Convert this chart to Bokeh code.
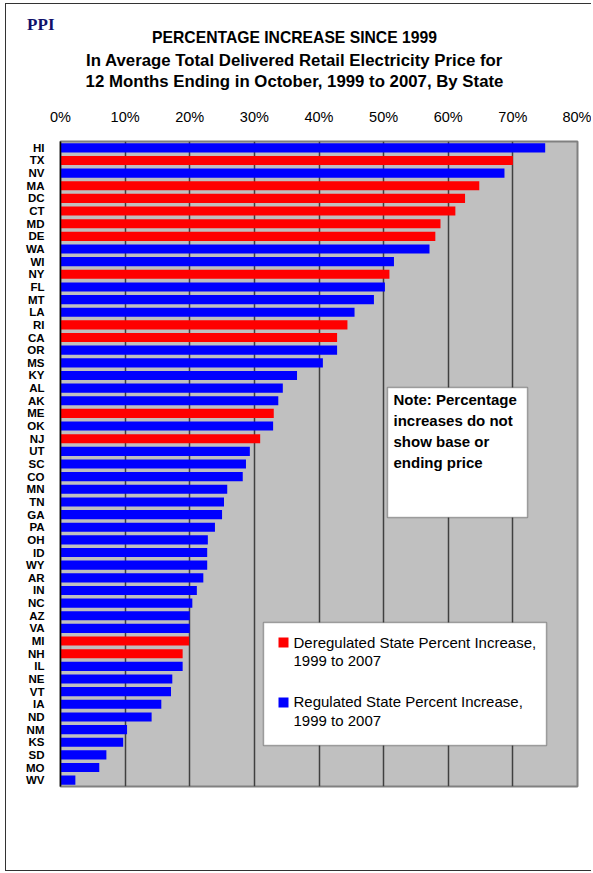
from bokeh.plotting import figure
from bokeh.layouts import column
from bokeh.models import (ColumnDataSource, FactorRange, Range1d, FixedTicker,
                          Label, BoxAnnotation)
from bokeh.core.properties import value
from bokeh.transform import factor_cmap
from bokeh.embed import file_html
from bokeh.resources import INLINE

# ---------------- data ----------------
states = ["HI", "TX", "NV", "MA", "DC", "CT", "MD", "DE", "WA", "WI", "NY", "FL",
          "MT", "LA", "RI", "CA", "OR", "MS", "KY", "AL", "AK", "ME", "OK", "NJ",
          "UT", "SC", "CO", "MN", "TN", "GA", "PA", "OH", "ID", "WY", "AR", "IN",
          "NC", "AZ", "VA", "MI", "NH", "IL", "NE", "VT", "IA", "ND", "NM", "KS",
          "SD", "MO", "WV"]
pct_increase = [75.0, 70.0, 68.7, 64.8, 62.6, 61.1, 58.8, 58.0, 57.1, 51.6, 50.9, 50.2,
                48.5, 45.5, 44.4, 42.8, 42.8, 40.6, 36.6, 34.4, 33.7, 33.0, 32.9, 30.9,
                29.3, 28.7, 28.2, 25.8, 25.3, 25.0, 23.9, 22.8, 22.7, 22.7, 22.1, 21.1,
                20.4, 20.0, 20.0, 19.9, 18.9, 18.9, 17.3, 17.1, 15.6, 14.1, 10.3, 9.7,
                7.1, 6.0, 2.3]
deregulated_states = ["TX", "MA", "DC", "CT", "MD", "DE", "NY", "RI", "CA", "ME",
                      "NJ", "MI", "NH"]
market_type = ["Deregulated" if s in deregulated_states else "Regulated" for s in states]

tick_values = [0, 10, 20, 30, 40, 50, 60, 70, 80]
tick_labels = ["0%", "10%", "20%", "30%", "40%", "50%", "60%", "70%", "80%"]

series_names = ["Deregulated", "Regulated"]
series_colors = ["#FF0000", "#0000FF"]
legend_lines = [["Deregulated State Percent Increase,", "1999 to 2007"],
                ["Regulated State Percent Increase,", "1999 to 2007"]]

title_lines = ["PERCENTAGE INCREASE SINCE 1999",
               "In Average Total Delivered Retail Electricity Price for",
               "12 Months Ending in October, 1999 to 2007, By State"]
note_lines = ["Note: Percentage", "increases do not", "show base or", "ending price"]
logo_text = "PPI"

FONT = "Liberation Sans"
W = 585
HEADER_H = 96
MAIN_H = 770
BORDER = "1px solid #333333"

# ---------------- header (title block) ----------------
# header frame lines up with the chart frame; ranges are page pixels
hdr = figure(width=W, height=HEADER_H, x_range=Range1d(60, 577), y_range=Range1d(100, 4),
             x_axis_location=None, y_axis_location="left",
             output_backend="svg", toolbar_location=None,
             min_border=0, min_border_left=0, min_border_right=0,
             min_border_top=0, min_border_bottom=0)
hdr.grid.visible = False
hdr.outline_line_color = None
hdr.background_fill_color = "white"
hdr.border_fill_color = "white"

# the "PPI" logo sits left of the frame: use the header's y axis label for it
hy = hdr.yaxis[0]
hy.ticker = FixedTicker(ticks=[24])
hy.major_label_overrides = {24: logo_text}
hy.axis_line_color = None
hy.major_tick_line_color = None
hy.minor_tick_line_color = None
hy.major_label_text_font = "Liberation Serif"
hy.major_label_text_font_style = "bold"
hy.major_label_text_font_size = "17px"
hy.major_label_text_color = "#10106A"
hy.major_label_standoff = 0

for txt, yy, fs in zip(title_lines, [37, 60, 81], ["15.7px", "16.8px", "16.8px"]):
    hdr.text(x=[294], y=[yy], text=[txt], text_font=value(FONT),
             text_font_style="bold", text_font_size=fs, text_align="center",
             text_baseline="middle", text_color="black")

# ---------------- main chart ----------------
source = ColumnDataSource(dict(state=states, value=pct_increase, kind=market_type))

p = figure(width=W, height=MAIN_H,
           y_range=FactorRange(factors=states[::-1]),
           x_range=Range1d(0, 80),
           x_axis_location="above",
           output_backend="svg", toolbar_location=None,
           min_border_left=54, min_border_right=14,
           min_border_top=41, min_border_bottom=84)

p.background_fill_color = "#C0C0C0"
p.border_fill_color = "white"
p.outline_line_color = "#808080"
p.outline_line_width = 2

p.hbar(y="state", right="value", left=0, height=0.72, source=source,
       fill_color=factor_cmap("kind", series_colors, series_names),
       line_color=None)

p.ygrid.grid_line_color = None
p.xgrid.ticker = FixedTicker(ticks=tick_values)
p.xgrid.grid_line_color = "#404040"
p.xgrid.grid_line_width = 1.5

xa = p.xaxis[0]
xa.ticker = FixedTicker(ticks=tick_values)
xa.major_label_overrides = {v: t for v, t in zip(tick_values, tick_labels)}
xa.axis_line_color = None
xa.major_tick_line_color = None
xa.minor_tick_line_color = None
xa.major_label_text_font = FONT
xa.major_label_text_font_size = "14.5px"
xa.major_label_text_color = "black"
xa.major_label_standoff = 11

ya = p.yaxis[0]
ya.axis_line_color = "black"
ya.axis_line_width = 1.5
ya.major_tick_line_color = None
ya.minor_tick_line_color = None
ya.major_label_text_font = FONT
ya.major_label_text_font_style = "bold"
ya.major_label_text_font_size = "11.5px"
ya.major_label_text_color = "black"
ya.major_label_standoff = 10

# note box (screen units relative to the plot frame)
p.add_layout(BoxAnnotation(left=327, right=467, bottom=269, top=399,
                           left_units="screen", right_units="screen",
                           top_units="screen", bottom_units="screen",
                           fill_color="white", fill_alpha=1.0,
                           line_color="black", line_width=1.5))
for txt, yy in zip(note_lines, [387, 366, 345, 324]):
    p.add_layout(Label(x=333, y=yy, x_units="screen", y_units="screen", text=txt,
                       text_font=FONT, text_font_style="bold", text_font_size="15px",
                       text_align="left", text_baseline="middle", text_color="black"))

# legend box
p.add_layout(BoxAnnotation(left=203, right=486, bottom=41, top=164,
                           left_units="screen", right_units="screen",
                           top_units="screen", bottom_units="screen",
                           fill_color="white", fill_alpha=1.0,
                           line_color="black", line_width=1.5))
sq_tops = [149, 89]
text_ys = [[144, 126], [85, 66]]
for col, top, lines, ys in zip(series_colors, sq_tops, legend_lines, text_ys):
    p.add_layout(BoxAnnotation(left=218, right=228, bottom=top - 10, top=top,
                               left_units="screen", right_units="screen",
                               top_units="screen", bottom_units="screen",
                               fill_color=col, fill_alpha=1.0, line_color=None))
    for txt, yy in zip(lines, ys):
        p.add_layout(Label(x=233, y=yy, x_units="screen", y_units="screen", text=txt,
                           text_font=FONT, text_font_size="15px",
                           text_align="left", text_baseline="middle",
                           text_color="black"))

layout = column(hdr, p, spacing=0,
                styles={"border-left": BORDER, "border-top": BORDER,
                        "border-bottom": BORDER,
                        "margin-left": "5px", "margin-top": "3px"})

open("out.html", "w").write(file_html(layout, INLINE))
